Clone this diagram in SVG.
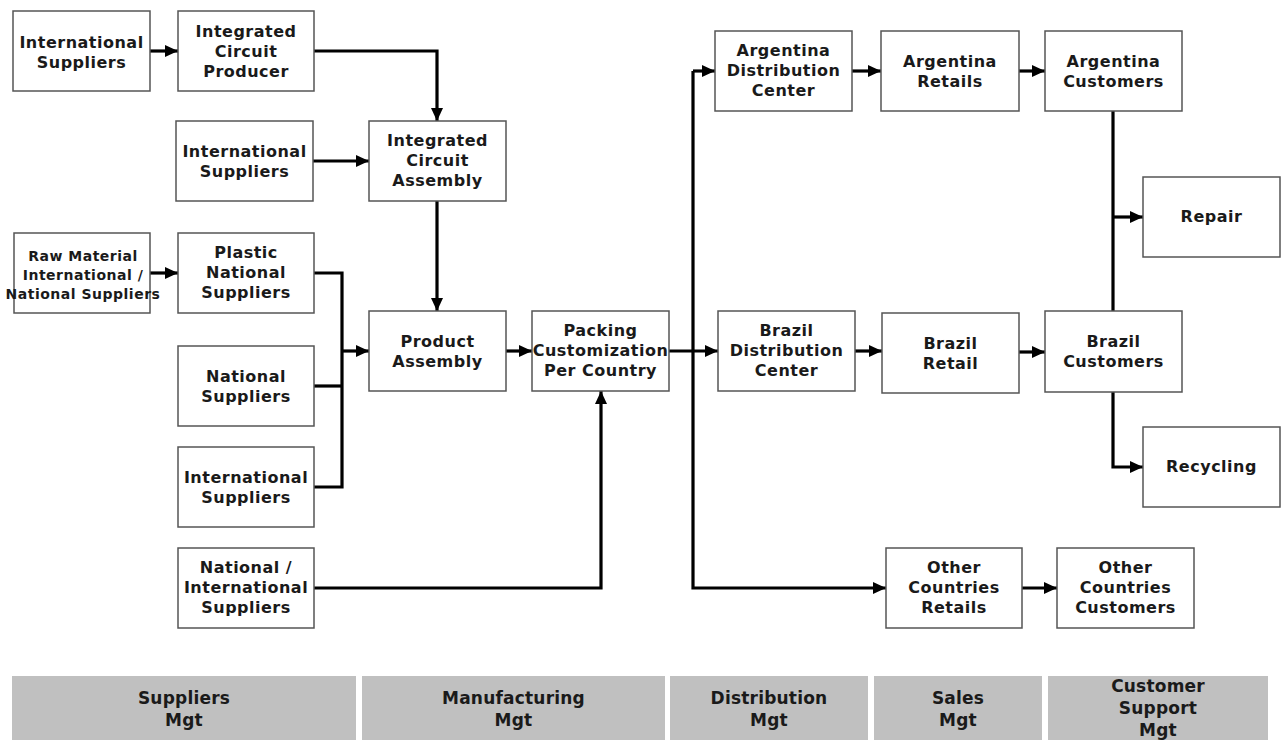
<svg xmlns="http://www.w3.org/2000/svg" width="1281" height="740" viewBox="0 0 1281 740">
<style>
.box{fill:#fff;stroke:#555;stroke-width:1.5}
.t{font-family:"DejaVu Sans",Verdana,sans-serif;font-weight:bold;font-size:16px;letter-spacing:0.5px;fill:#1a1a1a;text-anchor:middle}
.ts{font-size:14px;letter-spacing:0.5px}
.band{fill:#c0c0c0}
.bt{font-family:"DejaVu Sans",Verdana,sans-serif;font-weight:bold;font-size:17px;letter-spacing:0.2px;fill:#1a1a1a;text-anchor:middle}
.c{fill:none;stroke:#000;stroke-width:3.2}
.a{marker-end:url(#ah)}
</style>
<defs>
<marker id="ah" markerUnits="userSpaceOnUse" markerWidth="13" markerHeight="12" refX="13" refY="6" orient="auto">
<path d="M0,0 L13,6 L0,12 z" fill="#000"/>
</marker>
</defs>
<rect width="1281" height="740" fill="#fff"/>
<g id="connectors">
<path class="c a" d="M150 51 H178"/>
<path class="c a" d="M314 51 H437 V121"/>
<path class="c a" d="M313 161 H369"/>
<path class="c a" d="M437 201 V311"/>
<path class="c a" d="M150 273 H178"/>
<path class="c" d="M314 273 H342 V487 H314"/>
<path class="c" d="M314 386 H342"/>
<path class="c a" d="M342 351 H369"/>
<path class="c a" d="M506 351 H532"/>
<path class="c a" d="M314 588 H601 V391"/>
<path class="c a" d="M669 351 H718"/>
<path class="c a" d="M693 71 H715"/>
<path class="c a" d="M693 71 V588 H886"/>
<path class="c a" d="M852 71 H881"/>
<path class="c a" d="M1019 71 H1045"/>
<path class="c a" d="M855 351 H882"/>
<path class="c a" d="M1019 352 H1045"/>
<path class="c" d="M1113 111 V311"/>
<path class="c a" d="M1113 217 H1143"/>
<path class="c a" d="M1113 392 V467 H1143"/>
<path class="c a" d="M1022 588 H1057"/>
</g>
<g id="n1"><rect class="box" x="13" y="11" width="137" height="80"/><text class="t" x="81.5" y="48">International<tspan x="81.5" dy="20">Suppliers</tspan></text></g>
<g id="n2"><rect class="box" x="178" y="11" width="136" height="80"/><text class="t" x="246" y="37">Integrated<tspan x="246" dy="20">Circuit</tspan><tspan x="246" dy="20">Producer</tspan></text></g>
<g id="n3"><rect class="box" x="176" y="121" width="137" height="80"/><text class="t" x="244.5" y="157">International<tspan x="244.5" dy="20">Suppliers</tspan></text></g>
<g id="n4"><rect class="box" x="369" y="121" width="137" height="80"/><text class="t" x="437.5" y="146">Integrated<tspan x="437.5" dy="20">Circuit</tspan><tspan x="437.5" dy="20">Assembly</tspan></text></g>
<g id="n5"><rect class="box" x="14" y="233" width="136" height="80"/><text class="t ts" x="83" y="261">Raw Material<tspan x="83" dy="19">International /</tspan><tspan x="83" dy="19">National Suppliers</tspan></text></g>
<g id="n6"><rect class="box" x="178" y="233" width="136" height="80"/><text class="t" x="246" y="258">Plastic<tspan x="246" dy="20">National</tspan><tspan x="246" dy="20">Suppliers</tspan></text></g>
<g id="n7"><rect class="box" x="178" y="346" width="136" height="80"/><text class="t" x="246" y="382">National<tspan x="246" dy="20">Suppliers</tspan></text></g>
<g id="n8"><rect class="box" x="178" y="447" width="136" height="80"/><text class="t" x="246" y="483">International<tspan x="246" dy="20">Suppliers</tspan></text></g>
<g id="n9"><rect class="box" x="178" y="548" width="136" height="80"/><text class="t" x="246" y="573">National /<tspan x="246" dy="20">International</tspan><tspan x="246" dy="20">Suppliers</tspan></text></g>
<g id="n10"><rect class="box" x="369" y="311" width="137" height="80"/><text class="t" x="437.5" y="347">Product<tspan x="437.5" dy="20">Assembly</tspan></text></g>
<g id="n11"><rect class="box" x="532" y="311" width="137" height="80"/><text class="t" x="600.5" y="336">Packing<tspan x="600.5" dy="20">Customization</tspan><tspan x="600.5" dy="20">Per Country</tspan></text></g>
<g id="n12"><rect class="box" x="715" y="31" width="137" height="80"/><text class="t" x="783.5" y="56">Argentina<tspan x="783.5" dy="20">Distribution</tspan><tspan x="783.5" dy="20">Center</tspan></text></g>
<g id="n13"><rect class="box" x="881" y="31" width="138" height="80"/><text class="t" x="950" y="67">Argentina<tspan x="950" dy="20">Retails</tspan></text></g>
<g id="n14"><rect class="box" x="1045" y="31" width="137" height="80"/><text class="t" x="1113.5" y="67">Argentina<tspan x="1113.5" dy="20">Customers</tspan></text></g>
<g id="n15"><rect class="box" x="1143" y="177" width="137" height="80"/><text class="t" x="1211.5" y="222">Repair</text></g>
<g id="n16"><rect class="box" x="718" y="311" width="137" height="80"/><text class="t" x="786.5" y="336">Brazil<tspan x="786.5" dy="20">Distribution</tspan><tspan x="786.5" dy="20">Center</tspan></text></g>
<g id="n17"><rect class="box" x="882" y="313" width="137" height="80"/><text class="t" x="950.5" y="349">Brazil<tspan x="950.5" dy="20">Retail</tspan></text></g>
<g id="n18"><rect class="box" x="1045" y="311" width="137" height="81"/><text class="t" x="1113.5" y="347">Brazil<tspan x="1113.5" dy="20">Customers</tspan></text></g>
<g id="n19"><rect class="box" x="1143" y="427" width="137" height="80"/><text class="t" x="1211.5" y="472">Recycling</text></g>
<g id="n20"><rect class="box" x="886" y="548" width="136" height="80"/><text class="t" x="954" y="573">Other<tspan x="954" dy="20">Countries</tspan><tspan x="954" dy="20">Retails</tspan></text></g>
<g id="n21"><rect class="box" x="1057" y="548" width="137" height="80"/><text class="t" x="1125.5" y="573">Other<tspan x="1125.5" dy="20">Countries</tspan><tspan x="1125.5" dy="20">Customers</tspan></text></g>
<g id="bands">
<rect class="band" x="12" y="676" width="344" height="64"/>
<text class="bt" x="184" y="704">Suppliers<tspan x="184" dy="22">Mgt</tspan></text>
<rect class="band" x="362" y="676" width="303" height="64"/>
<text class="bt" x="513.5" y="704">Manufacturing<tspan x="513.5" dy="22">Mgt</tspan></text>
<rect class="band" x="670" y="676" width="198" height="64"/>
<text class="bt" x="769" y="704">Distribution<tspan x="769" dy="22">Mgt</tspan></text>
<rect class="band" x="874" y="676" width="168" height="64"/>
<text class="bt" x="958" y="704">Sales<tspan x="958" dy="22">Mgt</tspan></text>
<rect class="band" x="1048" y="676" width="220" height="64"/>
<text class="bt" x="1158" y="692">Customer<tspan x="1158" dy="22">Support</tspan><tspan x="1158" dy="22">Mgt</tspan></text>
</g>
</svg>
